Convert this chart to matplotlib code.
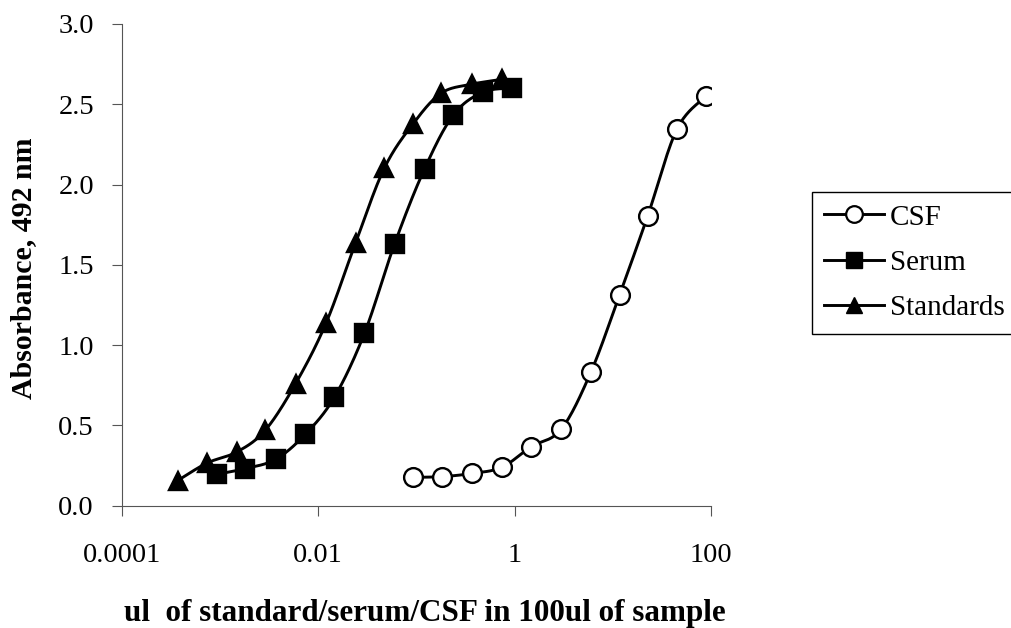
import numpy as np
import matplotlib
matplotlib.use("Agg")
import matplotlib.pyplot as plt
from matplotlib.lines import Line2D
from matplotlib.ticker import FixedLocator, FixedFormatter, NullLocator

plt.rcParams['font.family'] = ['Liberation Serif', 'DejaVu Serif']

# ---- data ----
std_x = [0.00037, 0.00074, 0.0015, 0.0029, 0.0059, 0.012, 0.024, 0.047, 0.093, 0.18, 0.37, 0.74]
std_y = [0.155, 0.265, 0.335, 0.47, 0.76, 1.135, 1.635, 2.10, 2.38, 2.57, 2.625, 2.655]

serum_x = [0.00093, 0.0018, 0.0037, 0.0074, 0.0146, 0.0296, 0.060, 0.121, 0.238, 0.474, 0.95]
serum_y = [0.195, 0.23, 0.288, 0.444, 0.674, 1.073, 1.63, 2.097, 2.433, 2.575, 2.60]

csf_x = [0.093, 0.184, 0.366, 0.74, 1.47, 2.98, 5.97, 11.7, 22.7, 44.9, 89]
csf_y = [0.176, 0.18, 0.20, 0.238, 0.366, 0.475, 0.83, 1.311, 1.806, 2.344, 2.551]

labels = ["CSF", "Serum", "Standards"]
xtick_vals = [0.0001, 0.01, 1, 100]
xtick_labels = ["0.0001", "0.01", "1", "100"]
ytick_vals = [0.0, 0.5, 1.0, 1.5, 2.0, 2.5, 3.0]
ytick_labels = ["0.0", "0.5", "1.0", "1.5", "2.0", "2.5", "3.0"]


def smooth(xs, ys, n=25):
    u = np.log10(np.asarray(xs, float))
    v = np.asarray(ys, float)
    P = np.column_stack([u, v])
    Pe = np.vstack([P[0], P, P[-1]])
    t = np.linspace(0, 1, n)[:, None]
    segs = []
    for i in range(len(P) - 1):
        p0, p1, p2, p3 = Pe[i], Pe[i + 1], Pe[i + 2], Pe[i + 3]
        c1 = p1 + (p2 - p0) / 6.0
        c2 = p2 - (p3 - p1) / 6.0
        seg = ((1 - t) ** 3) * p1 + 3 * ((1 - t) ** 2) * t * c1 + 3 * (1 - t) * t ** 2 * c2 + t ** 3 * p2
        segs.append(seg if i == 0 else seg[1:])
    out = np.vstack(segs)
    return 10 ** out[:, 0], out[:, 1]


fig = plt.figure(figsize=(10.11, 6.28), dpi=100)
ax = fig.add_axes([0.1204, 0.195, 0.7033 - 0.1204, 0.9618 - 0.195])

lw = 2.1
for xs, ys, mk, ms, mfc in [
    (csf_x, csf_y, 'o', 13.5, 'white'),
    (serum_x, serum_y, 's', 13, 'black'),
    (std_x, std_y, '^', 13.5, 'black'),
]:
    sx, sy = smooth(xs, ys)
    ax.plot(sx, sy, color='black', lw=lw, solid_capstyle='round', zorder=2)
    ax.plot(xs, ys, linestyle='none', marker=mk, markersize=ms,
            markerfacecolor=mfc, markeredgecolor='black', markeredgewidth=1.7, zorder=3)

ax.set_xscale('log')
ax.set_xlim(1e-4, 1e2)
ax.set_ylim(0, 3.0)
ax.xaxis.set_major_locator(FixedLocator(xtick_vals))
ax.xaxis.set_major_formatter(FixedFormatter(xtick_labels))
ax.xaxis.set_minor_locator(NullLocator())
ax.yaxis.set_major_locator(FixedLocator(ytick_vals))
ax.yaxis.set_major_formatter(FixedFormatter(ytick_labels))

for s in ['top', 'right']:
    ax.spines[s].set_visible(False)
for s in ['left', 'bottom']:
    ax.spines[s].set_color('#555555')
    ax.spines[s].set_linewidth(0.8)
ax.tick_params(axis='both', direction='out', length=7, width=0.8, color='#555555',
               labelsize=20.5, labelcolor='black')
ax.tick_params(axis='x', pad=20)
ax.tick_params(axis='y', pad=13)

fig.text(425 / 1011, 1 - 613 / 628, "ul  of standard/serum/CSF in 100ul of sample",
         ha='center', va='center', fontsize=22.4, fontweight='bold')
fig.text(24 / 1011, 1 - 268 / 628, "Absorbance, 492 nm", rotation=90,
         ha='center', va='center', fontsize=21.5, fontweight='bold')

handles = [
    Line2D([], [], color='black', lw=lw, marker='o', markersize=12, markerfacecolor='white',
           markeredgecolor='black', markeredgewidth=1.6),
    Line2D([], [], color='black', lw=lw, marker='s', markersize=12, markerfacecolor='black',
           markeredgecolor='black'),
    Line2D([], [], color='black', lw=lw, marker='^', markersize=12, markerfacecolor='black',
           markeredgecolor='black'),
]
leg = fig.legend(handles, labels, loc='upper left', bbox_to_anchor=(812 / 1011, 1 - 192 / 628),
                 bbox_transform=fig.transFigure, frameon=True, fancybox=False,
                 edgecolor='black', framealpha=1, fontsize=21, handlelength=2.05,
                 handletextpad=0.2, labelspacing=0.65, borderpad=0.42, borderaxespad=0)
leg.get_frame().set_linewidth(1.0)

fig.savefig("out.png", dpi=100)
